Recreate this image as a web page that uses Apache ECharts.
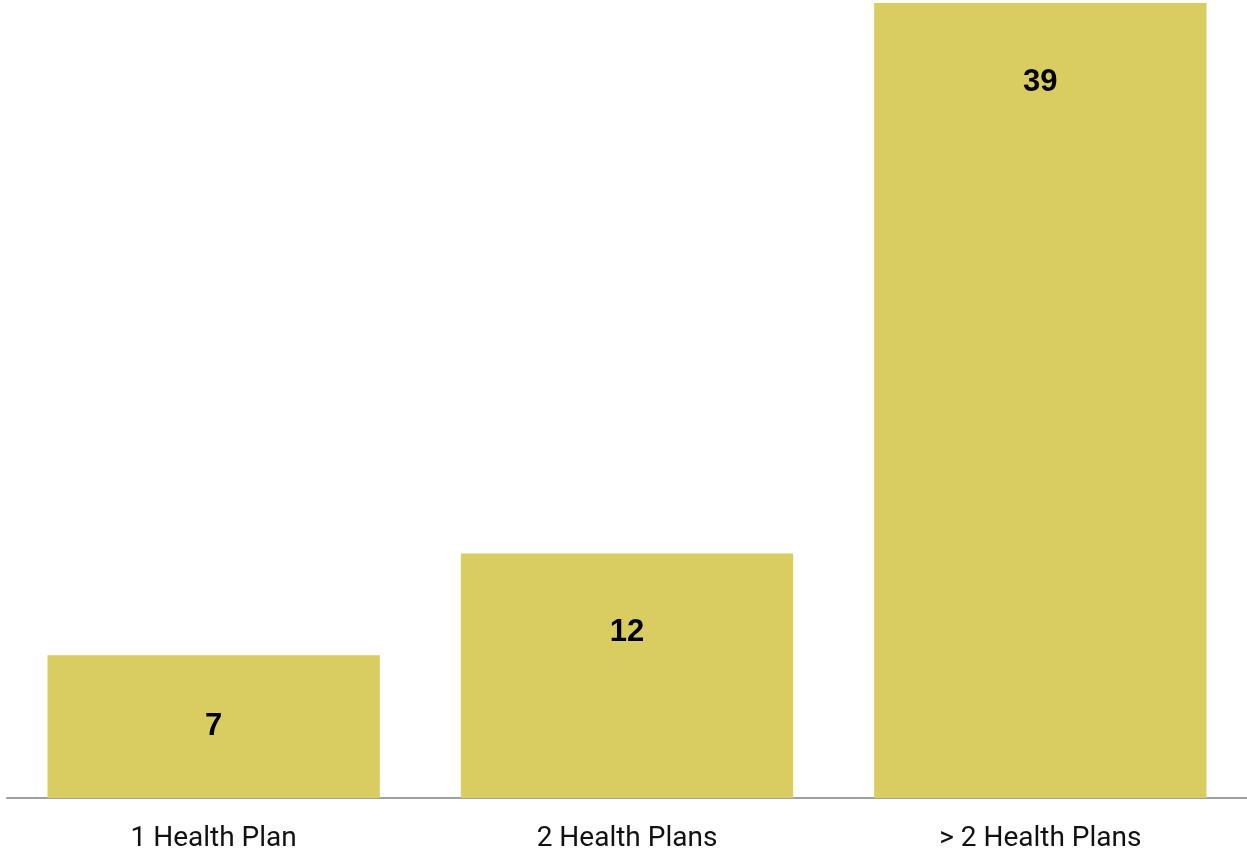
<!DOCTYPE html>
<html>
<head>
<meta charset="utf-8">
<script src="https://cdn.jsdelivr.net/npm/echarts@6/dist/echarts.min.js"></script>
<style>
html,body{margin:0;padding:0;background:#fff;}
#c{width:1247px;height:853px;}
</style>
</head>
<body>
<div id="c"></div>
<script>
const categories = ['1 Health Plan', '2 Health Plans', '> 2 Health Plans'];
const values = [7, 12, 39];

const chart = echarts.init(document.getElementById('c'), null, {renderer: 'canvas'});
const data = values.map((v, i) => ({
  value: v,
  label: i === 0 ? {position: 'inside'} : {position: 'insideTop', distance: 64}
}));
chart.setOption({
  animation: false,
  grid: {left: 7, right: 0, top: 3, bottom: 55, containLabel: false},
  xAxis: {
    type: 'category',
    data: categories,
    axisLine: {lineStyle: {color: '#a0a0a0', width: 2}},
    axisTick: {show: false},
    axisLabel: {color: '#111', fontSize: 28, fontFamily: 'Roboto', margin: 27}
  },
  yAxis: {
    type: 'value', min: 0, max: 39, show: false, splitLine: {show: false}
  },
  series: [{
    type: 'bar',
    data: data,
    barCategoryGap: '19.6%',
    itemStyle: {color: '#D9CC60'},
    label: {show: true, color: '#000', fontSize: 31, fontWeight: 'bold', fontFamily: 'Liberation Sans'}
  }]
});
</script>
</body>
</html>
